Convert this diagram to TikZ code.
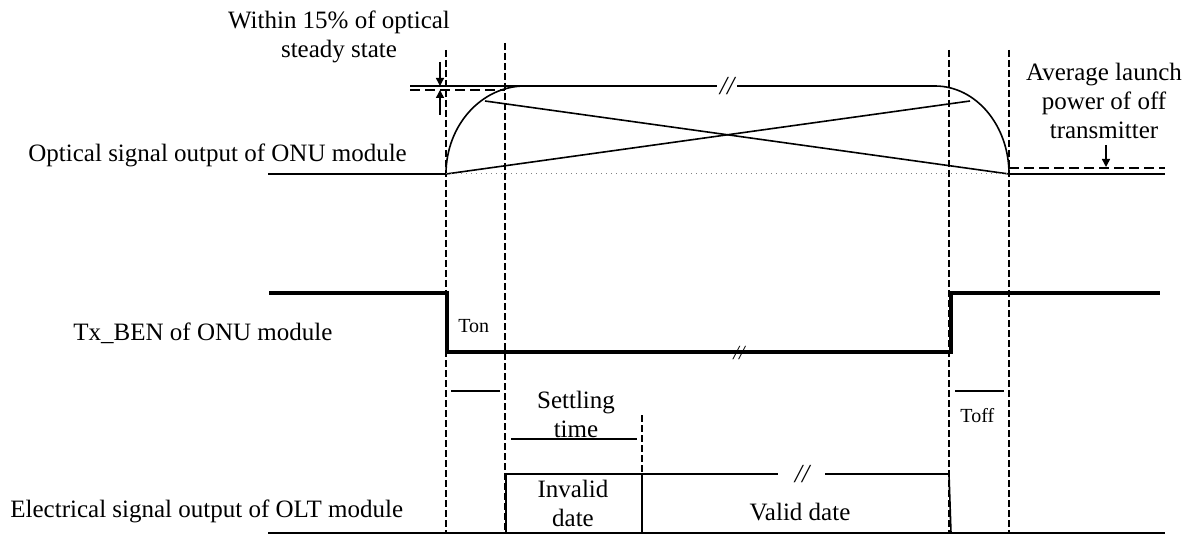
\documentclass[tikz,border=0pt]{standalone}
\usepackage{fontspec}
\setmainfont{Liberation Serif}
\usetikzlibrary{arrows.meta}

\tikzset{
  lbl/.style={inner sep=0pt, font=\fontsize{12.5}{14.5}\selectfont, align=center},
  smalltxt/.style={inner sep=0pt, font=\fontsize{10}{12}\selectfont},
  brk/.style={inner sep=0pt, font=\fontsize{13}{14}\selectfont\itshape},
  sig/.style={line width=0.8pt},
  ben/.style={line width=1.6pt},
  guide/.style={line width=0.6pt, dash pattern=on 3.5pt off 1.5pt},
  level/.style={line width=0.7pt, dash pattern=on 5pt off 2.5pt},
  arr/.style={line width=0.7pt, -{Triangle[length=4pt,width=4pt]}}
}

\begin{document}
\begin{tikzpicture}[x=0.5pt,y=-0.5pt]
        \useasboundingbox (0,0) rectangle (1194,534);
        % time markers
        \coordinate (onA) at (446,174);
        \coordinate (onB) at (525,86);
        \coordinate (offA) at (935,86);
        \coordinate (offB) at (1009,174);
        \draw[guide] (446,50) -- (446,534);
        \draw[guide] (505,43) -- (505,534);
        \draw[guide] (949,50) -- (949,534);
        \draw[guide] (1009,50) -- (1009,534);
        \draw[guide] (642,415) -- (642,474);

        % optical signal
        \node[lbl, anchor=north] (steady) at (339,11) {Within 15\% of optical\\steady state};
        \node[lbl, anchor=base west] (optlbl) at (28,162) {Optical signal output of ONU module};
        \node[lbl, anchor=north] (offpow) at (1104,63) {Average launch\\power of off\\transmitter};
        \draw[sig] (268,174) -- (onA);
        \draw[sig] (onA) .. controls (446,125.4) and (481.4,86) .. (onB);
        \draw[sig] (offA) .. controls (975.9,86) and (1009,125.4) .. (offB);
        \draw[sig] (410,86) -- (717,86);
        \draw[sig] (737,86) -- (offA);
        \node[brk] (brk1) at (727,86) {//};
        \draw[sig] (onA) -- (970,101);
        \draw[sig] (485,101) -- (offB);
        \draw[gray, line width=0.5pt, dotted] (onA) -- (offB);
        \draw[sig] (offB) -- (1165,174);
        \draw[level] (410,90) -- (505,90);
        \draw[level] (offB) ++(0,-6) -- (1165,168);
        \draw[arr] (440,62) -- (440,86);
        \draw[arr] (440,115) -- (440,90);
        \draw[arr] (1106,145) -- (1106,167);

        % Tx_BEN
        \node[lbl, anchor=base west] (benlbl) at (73,340) {Tx\_BEN of ONU module};
        \draw[ben] (269,293) -- (447,293) -- (447,352) -- (951,352) -- (951,293) -- (1160,293);
        \node[smalltxt, font=\fontsize{10}{12}\selectfont\itshape] (brk2) at (739,353) {//};
        \node[smalltxt, anchor=base west] (ton) at (458,333) {Ton};
        \node[smalltxt, anchor=base west] (toff) at (960,422) {Toff};
        \draw[sig] (451,391) -- (500,391);
        \draw[sig] (955,391) -- (1004,391);

        % electrical signal
        \node[lbl, anchor=north] (settle) at (576,391) {Settling\\time};
        \draw[sig] (511,439) -- (637,439);
        \node[lbl, anchor=base west] (ellbl) at (10,517) {Electrical signal output of OLT module};
        \draw[sig] (268,533) -- (1165,533);
        \draw[sig] (506,533) -- (506,474) -- (778,474);
        \draw[sig] (825,474) -- (949,474) -- (951,533);
        \draw[sig] (642,474) -- (642,533);
        \node[brk] (brk3) at (802,474) {//};
        \node[lbl, anchor=north] (invalid) at (573,480) {Invalid\\date};
        \node[lbl, anchor=base] (valid) at (800,520) {Valid date};
\end{tikzpicture}
\end{document}
